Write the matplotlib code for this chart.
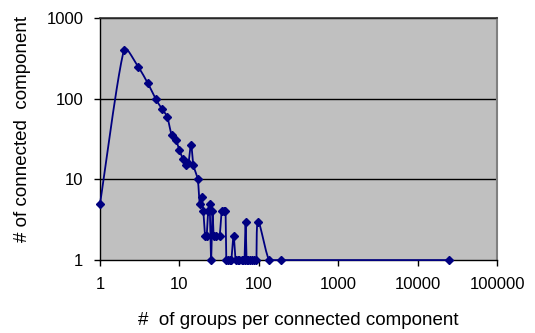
import numpy as np
import matplotlib
matplotlib.use("Agg")
import matplotlib.pyplot as plt

# groups per connected component -> number of connected components
groups = [1, 2, 3, 4, 5, 6, 7, 8, 9, 10, 11, 12, 13, 14, 15, 17, 18, 19, 20, 21,
          22, 23, 24, 25, 26, 27, 29, 32, 34, 36, 38, 39, 41, 43, 45, 48, 51, 54,
          57, 61, 64, 66, 68, 70, 74, 78, 83, 88, 93, 98, 135, 190, 24500]
counts = [5, 400, 250, 155, 100, 75, 60, 35, 31, 23, 18, 15, 16, 27, 15, 10, 5, 6, 4, 2,
          2, 4, 5, 1, 4, 2, 2, 2, 4, 4, 4, 1, 1, 1, 1, 2, 1, 1,
          1, 1, 1, 1, 3, 1, 1, 1, 1, 1, 1, 3, 1, 1, 1]

x_ticks = [1, 10, 100, 1000, 10000, 100000]
y_ticks = [1, 10, 100, 1000]

plt.rcParams['font.family'] = ['Liberation Sans', 'DejaVu Sans']


def arm(v, L):
    # catmull-rom arm, but never longer than a third of the segment
    n = np.linalg.norm(v)
    if n > L / 3.0 and n > 0:
        v = v * (L / 3.0) / n
    return v


def smooth_log(xs, ys, n=24):
    # excel-ish smoothed line, bezier segments in log-log (screen) space
    p = np.column_stack([np.log10(xs) * 79.4, np.log10(ys) * 80.7])
    segs = []
    t = np.linspace(0, 1, n)[:, None]
    for i in range(len(p) - 1):
        p0 = p[max(i - 1, 0)]
        p1 = p[i]
        p2 = p[i + 1]
        p3 = p[min(i + 2, len(p) - 1)]
        L = np.linalg.norm(p2 - p1)
        c1 = p1 + arm((p2 - p0) / 6.0, L)
        c2 = p2 - arm((p3 - p1) / 6.0, L)
        seg = (1 - t)**3 * p1 + 3 * (1 - t)**2 * t * c1 + 3 * (1 - t) * t**2 * c2 + t**3 * p2
        segs.append(seg if i == 0 else seg[1:])
    s = np.vstack(segs)
    lx = s[:, 0] / 79.4
    ly = np.clip(s[:, 1] / 80.7, 0, 3)
    return 10**lx, 10**ly


fig = plt.figure(figsize=(5.35, 3.33), dpi=100)
ax = fig.add_axes([0.187, 0.219, 0.742, 0.727])
ax.set_facecolor('#C0C0C0')

ax.set_xscale('log')
ax.set_yscale('log')
ax.set_xlim(1, 100000)
ax.set_ylim(1, 1000)

for yv in y_ticks[1:]:
    ax.axhline(yv, color='black', lw=1, zorder=1)

sx, sy = smooth_log(groups, counts)
ax.plot(sx, sy, color='#000080', lw=1.3, zorder=3, clip_on=False)
ax.plot(groups, counts, ls='none', marker='D', ms=4.2, color='#000080',
        zorder=4, clip_on=False)

ax.set_xticks(x_ticks)
ax.set_xticklabels([str(v) for v in x_ticks])
ax.set_yticks(y_ticks)
ax.set_yticklabels([str(v) for v in y_ticks])
ax.minorticks_off()
ax.tick_params(axis='both', direction='out', length=4, width=1, color='black',
               labelsize=12)
ax.tick_params(axis='y', pad=8)
ax.tick_params(axis='x', pad=8.5)

for side in ['left', 'bottom']:
    ax.spines[side].set_color('black')
    ax.spines[side].set_linewidth(1)
ax.spines['top'].set_color('#303030')
ax.spines['top'].set_linewidth(1.2)
ax.spines['right'].set_color('#808080')
ax.spines['right'].set_linewidth(1.5)

fig.text(0.557, 0.037, '#  of groups per connected component', ha='center',
         va='center', fontsize=13.5)
fig.text(0.042, 0.613, '# of connected  component', ha='center', va='center',
         rotation=90, fontsize=13.5)

fig.savefig('out.png', dpi=100)
